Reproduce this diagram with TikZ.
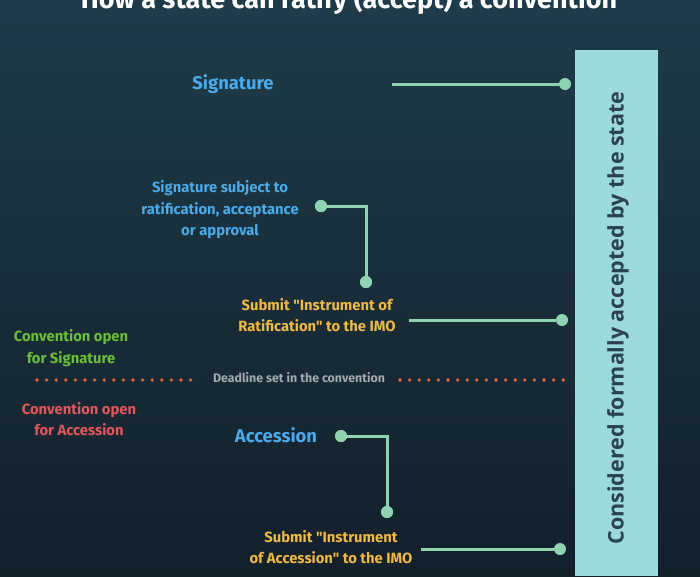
\documentclass[tikz,border=0pt]{standalone}
\usepackage{fontspec}
\setmainfont{Fira Sans}[Ligatures=TeXOff]
\newfontfamily\barfont{Open Sans}
\usetikzlibrary{positioning}
\definecolor{bgtop}{HTML}{1F3B49}
\definecolor{bgbot}{HTML}{12202A}
\definecolor{barc}{HTML}{9DDBDB}
\definecolor{bartext}{HTML}{2B4250}
\definecolor{mint}{HTML}{8FD3B0}
\definecolor{lblue}{HTML}{4AAAEA}
\definecolor{lorange}{HTML}{F0B845}
\definecolor{lgreen}{HTML}{6CBE3A}
\definecolor{lred}{HTML}{E2575C}
\definecolor{dorange}{HTML}{E8693A}
\definecolor{dgray}{HTML}{A2AAAF}
\tikzset{
  lbl/.style={align=center, font=\bfseries\fontsize{14.8}{21.5}\selectfont, inner sep=0pt},
  big/.style={font=\bfseries\fontsize{18.4}{20}\selectfont, text=lblue, inner sep=0pt},
  dot/.style={circle, fill=mint, minimum size=12pt, inner sep=0pt},
  conn/.style={draw=mint, line width=3pt},
  dl/.style={draw=dorange, line width=3.6pt, line cap=round, dash pattern=on 0pt off 9.6pt}
}
\begin{document}
\begin{tikzpicture}[x=1pt,y=-1pt]
\shade[top color=bgtop, bottom color=bgbot] (0,0) rectangle (700,576);
\useasboundingbox (0,0) rectangle (700,576);
% title (cut off)
\node[font=\bfseries\fontsize{27}{30}\selectfont, text=white, anchor=base] (title) at (349,8) {How a state can ratify (accept) a convention};
% bar
\fill[barc] (575,50) rectangle (658,576);
\node[rotate=90, font=\barfont\bfseries\fontsize{21.5}{24}\selectfont, text=bartext] (bartxt) at (618,318) {Considered formally accepted by the state};
% Signature
\node[big] (sig) at (233,84) {Signature};
\coordinate (sigs) at (392,84);
\node[dot] (sigd) at (565,84) {};
\draw[conn] (sigs) -- (sigd);
% Signature subject to ratification
\node[lbl, text=lblue] (ssub) at (220,210) {Signature subject to\\ratification, acceptance\\or approval};
\node[dot] (d1) at (321,206) {};
\node[dot] (d2) at (366,282) {};
\draw[conn] (d1.center) -| (d2.center);
\node[dot] (d1b) at (321,206) {};
\node[dot] (d2b) at (366,282) {};
% Submit ratification
\node[lbl, text=lorange] (subr) at (317,315) {Submit "Instrument of\\Ratification" to the IMO};
\coordinate (rs) at (409,320);
\node[dot] (rd) at (562,320) {};
\draw[conn] (rs) -- (rd);
% convention open for signature
\node[lbl, text=lgreen] (cos) at (71,348) {Convention open\\for Signature};
% deadline
\node[font=\bfseries\fontsize{12.4}{14}\selectfont, text=dgray, inner sep=0pt] (dead) at (299,378) {Deadline set in the convention};
\coordinate (dl1) at (37,380);
\coordinate (dl2) at (200,380);
\coordinate (dl3) at (400,380);
\coordinate (dl4) at (564,380);
\draw[dl] (dl1) -- (dl2);
\draw[dl] (dl3) -- (dl4);
% convention open for accession
\node[lbl, text=lred] (coa) at (79,419) {Convention open\\for Accession};
% Accession
\node[big] (acc) at (276,435) {Accession};
\node[dot] (a1) at (341,436) {};
\node[dot] (a2) at (387,512) {};
\draw[conn] (a1.center) -| (a2.center);
\node[dot] (a1b) at (341,436) {};
\node[dot] (a2b) at (387,512) {};
% submit accession
\node[lbl, text=lorange] (suba) at (331,547) {Submit "Instrument\\of Accession" to the IMO};
\coordinate (as) at (421,549);
\node[dot] (ad) at (560,549) {};
\draw[conn] (as) -- (ad);
\end{tikzpicture}
\end{document}
